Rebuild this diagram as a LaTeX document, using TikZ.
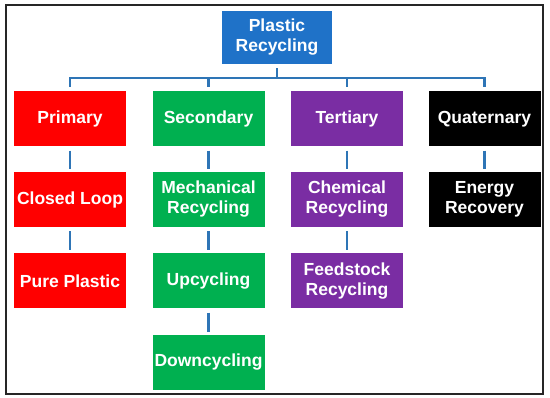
\documentclass[tikz,border=0pt]{standalone}
\usepackage{fontspec}
\setmainfont{Liberation Sans}

\definecolor{bleu}{HTML}{1F72C8}
\definecolor{trait}{HTML}{2E75B6}
\definecolor{rouge}{HTML}{FF0000}
\definecolor{vert}{HTML}{00B050}
\definecolor{violet}{HTML}{7A2DA3}

\tikzset{
  boite/.style={minimum width=112pt, minimum height=55pt, inner sep=1pt,
    text=white, align=center, font=\bfseries\fontsize{17.5}{20}\selectfont},
  lien/.style={draw=trait, line width=2.6pt}
}

\begin{document}
\begin{tikzpicture}[x=1pt, y=-1pt]

% Cadre
\useasboundingbox (0,0) rectangle (550,398);
\draw[line width=1.8pt, black!85] (6,5) rectangle (543,394);

% Racine
\node[boite, fill=bleu, minimum width=110pt, minimum height=53pt] (racine) at (277,37.5) {Plastic\\Recycling};
\coordinate (bus) at (277,78);

% Colonnes
\node[boite, fill=rouge] (prim) at (70,119) {Primary};
\node[boite, fill=vert] (sec) at (208.5,119) {Secondary};
\node[boite, fill=violet] (tert) at (347,119) {Tertiary};
\node[boite, fill=black] (quat) at (484.5,119) {Quaternary};

\node[boite, fill=rouge] (boucle) at (70,199.5) {Closed Loop};
\node[boite, fill=vert] (meca) at (208.5,199.5) {Mechanical\\Recycling};
\node[boite, fill=violet] (chim) at (347,199.5) {Chemical\\Recycling};
\node[boite, fill=black] (energie) at (484.5,199.5) {Energy\\Recovery};

\node[boite, fill=rouge] (pur) at (70,281) {Pure Plastic};
\node[boite, fill=vert] (up) at (208.5,281) {Upcycling};
\node[boite, fill=violet] (charge) at (347,281) {Feedstock\\Recycling};

\node[boite, fill=vert] (down) at (208.5,362.5) {Downcycling};

% Liens
\draw[lien, shorten <=4pt] (racine) -- (bus);
\foreach \n in {prim,sec,tert,quat}
  \draw[lien, shorten >=4pt] (bus) -| (\n);

\foreach \a/\b in {prim/boucle, boucle/pur, sec/meca, meca/up, up/down,
                   tert/chim, chim/charge, quat/energie}
  \draw[lien, shorten <=4pt, shorten >=3pt] (\a) -- (\b);

\end{tikzpicture}
\end{document}
